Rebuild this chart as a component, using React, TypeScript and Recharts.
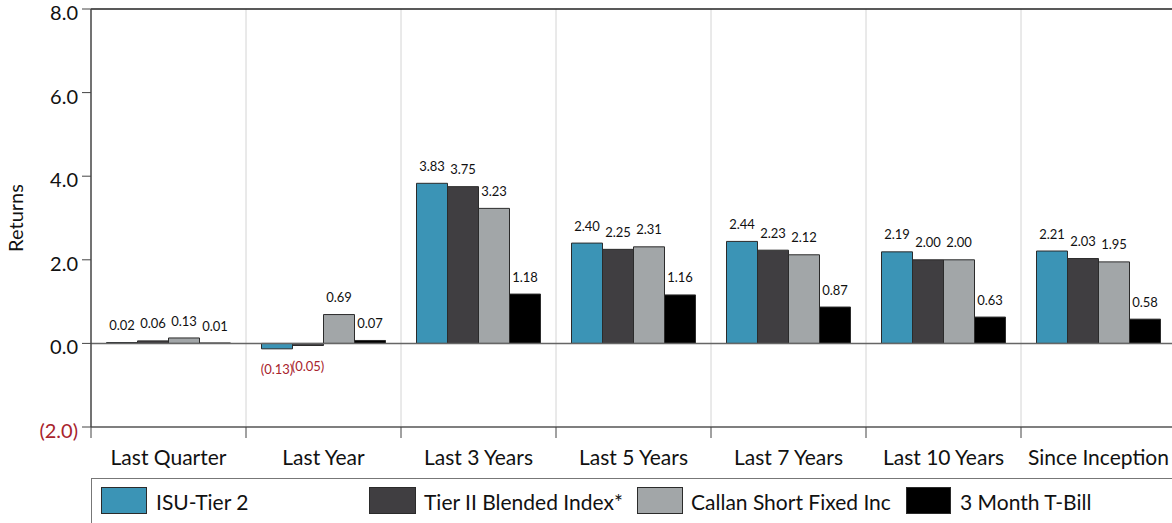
import React from "react"
import { BarChart, Bar, XAxis, YAxis, CartesianGrid, ReferenceLine, LabelList } from "recharts"

const categories = ["Last Quarter", "Last Year", "Last 3 Years", "Last 5 Years", "Last 7 Years", "Last 10 Years", "Since Inception"]
const isuTier2 = [0.02, -0.13, 3.83, 2.4, 2.44, 2.19, 2.21]
const tierIIBlended = [0.06, -0.05, 3.75, 2.25, 2.23, 2.0, 2.03]
const callanShort = [0.13, 0.69, 3.23, 2.31, 2.12, 2.0, 1.95]
const tBill = [0.01, 0.07, 1.18, 1.16, 0.87, 0.63, 0.58]
const yTicks = [-2, 0, 2, 4, 6, 8]

const seriesNames = ["ISU-Tier 2", "Tier II Blended Index*", "Callan Short Fixed Inc", "3 Month T-Bill"]
const seriesColors = ["#3b94b6", "#403e41", "#a2a6a8", "#000000"]
const seriesValues = [isuTier2, tierIIBlended, callanShort, tBill]

const data = categories.map((name, i) => ({
  name,
  s0: seriesValues[0][i],
  s1: seriesValues[1][i],
  s2: seriesValues[2][i],
  s3: seriesValues[3][i],
}))

const FONT = "Lato, 'Open Sans', sans-serif"
const CHART_W = 1180
const CHART_H = 523
const M = { top: 9, right: 4, left: 0, bottom: 46 }
const Y_W = 91
const PLOT_W = CHART_W - M.left - M.right - Y_W
const BAND = PLOT_W / categories.length
const RED = "#a8232c"

// legend item layout (page px)
const legendLayout = [
  { sx: 100, sw: 46, tx: 155 },
  { sx: 368, sw: 47, tx: 423 },
  { sx: 636, sw: 46, tx: 690 },
  { sx: 905, sw: 45, tx: 959 },
]

const fmt = (v: number) => (v < 0 ? `(${Math.abs(v).toFixed(2)})` : v.toFixed(2))

function ValueLabel(props: any) {
  const { x, y, width, height, value } = props
  const top = Math.min(y, y + height)
  const bottom = Math.max(y, y + height)
  const neg = value < 0
  return (
    <text
      x={x + width / 2}
      y={neg ? bottom + 21 : top - 17}
      dy="0.35em"
      textAnchor="middle"
      fontSize={13}
      fontFamily={FONT}
      fill={neg ? RED : "#111"}
    >
      {fmt(value)}
    </text>
  )
}

function YTick(props: any) {
  const { x, y, payload } = props
  const v = payload.value as number
  return (
    <text x={x} y={y} dy={11} textAnchor="end" fontSize={20} fontFamily={FONT} fill={v < 0 ? RED : "#111"}>
      {v < 0 ? `(${Math.abs(v).toFixed(1)})` : v.toFixed(1)}
    </text>
  )
}

function XTick(props: any) {
  const { x, y, payload, index } = props
  const isLast = index === categories.length - 1
  return (
    <g>
      <line x1={x - BAND / 2} x2={x - BAND / 2} y1={y} y2={y + 11} stroke="#444" />
      {isLast && <line x1={x + BAND / 2} x2={x + BAND / 2} y1={y} y2={y + 11} stroke="#444" />}
      <text x={x} y={y + 38} textAnchor="middle" fontSize={21} fontFamily={FONT} fill="#111">
        {payload.value}
      </text>
    </g>
  )
}

export default function App() {
  return (
    <div style={{ position: "absolute", left: 0, top: 0, width: 1172, height: 523, overflow: "hidden", background: "#fff" }}>
      <BarChart width={CHART_W} height={CHART_H} data={data} margin={M} barCategoryGap="10%" barGap={0}>
        <CartesianGrid
          horizontal={false}
          stroke="#d4d4d4"
          verticalCoordinatesGenerator={({ offset }: any) =>
            categories.slice(1).map((_, i) => offset.left + (i + 1) * (offset.width / categories.length))
          }
        />
        <XAxis
          dataKey="name"
          interval={0}
          tickSize={0}
          tickMargin={0}
          tickLine={false}
          axisLine={{ stroke: "#555", strokeWidth: 1.5 }}
          tick={<XTick />}
          height={50}
        />
        <YAxis
          domain={[-2, 8]}
          ticks={yTicks}
          width={Y_W}
          tickSize={9}
          tickMargin={4}
          tickLine={{ stroke: "#444" }}
          axisLine={{ stroke: "#444", strokeWidth: 1.5 }}
          tick={<YTick />}
          label={{
            value: "Returns",
            angle: -90,
            position: "insideLeft",
            offset: 16,
            style: { textAnchor: "middle", fontSize: 20, fontFamily: FONT, fill: "#111" },
          }}
        />
        <ReferenceLine y={8} stroke="#222" strokeWidth={1.5} />
        <ReferenceLine y={0} stroke="#666" strokeWidth={1.5} />
        {seriesNames.map((n, i) => (
          <Bar key={n} dataKey={`s${i}`} name={n} fill={seriesColors[i]} stroke="#2b2b2b" strokeWidth={1} isAnimationActive={false}>
            <LabelList dataKey={`s${i}`} content={<ValueLabel />} />
          </Bar>
        ))}
      </BarChart>
      <div
        style={{
          position: "absolute",
          left: 91,
          top: 478,
          width: 1100,
          height: 60,
          borderTop: "1.5px solid #777",
          borderLeft: "1.5px solid #777",
          fontFamily: FONT,
        }}
      >
        {seriesNames.map((n, i) => (
          <React.Fragment key={n}>
            <div
              style={{
                position: "absolute",
                left: legendLayout[i].sx - 91,
                top: 8,
                width: legendLayout[i].sw,
                height: 27,
                background: seriesColors[i],
                border: "1px solid #2b2b2b",
                boxSizing: "border-box",
              }}
            />
            <div style={{ position: "absolute", left: legendLayout[i].tx - 91, top: 9, fontSize: 21, lineHeight: "27px", color: "#111", whiteSpace: "nowrap" }}>
              {n}
            </div>
          </React.Fragment>
        ))}
      </div>
    </div>
  )
}
